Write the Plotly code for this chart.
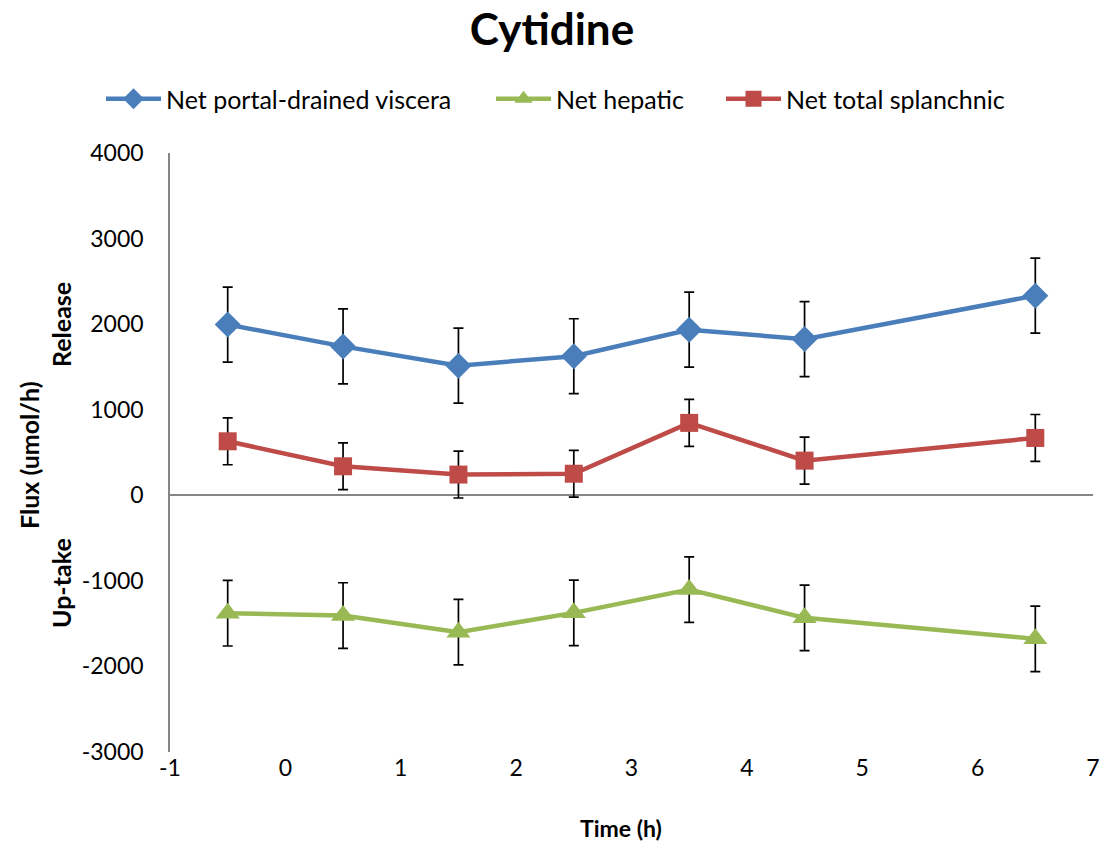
import plotly.graph_objects as go

time_h = [-0.5, 0.5, 1.5, 2.5, 3.5, 4.5, 6.5]

pdv = [1995, 1740, 1515, 1625, 1935, 1825, 2333]
pdv_err = [438, 438, 438, 438, 438, 438, 438]

hepatic = [-1378, -1405, -1600, -1374, -1102, -1432, -1678]
hepatic_err = [383, 383, 383, 383, 383, 383, 383]

splanchnic = [631, 339, 242, 252, 846, 405, 670]
splanchnic_err = [274, 274, 274, 274, 274, 274, 274]

x_ticks = [-1, 0, 1, 2, 3, 4, 5, 6, 7]
x_labels = ["-1", "0", "1", "2", "3", "4", "5", "6", "7"]
y_ticks = [-3000, -2000, -1000, 0, 1000, 2000, 3000, 4000]
y_labels = ["-3000", "-2000", "-1000", "0", "1000", "2000", "3000", "4000"]

FONT = "Lato"
BLUE = "#4A7EBB"
GREEN = "#98B954"
RED = "#BE4B48"
FS = 23

fig = go.Figure()

def add(name, y, err, color, symbol, size, legend):
    fig.add_trace(go.Scatter(
        x=time_h, y=y, name=name, mode="lines+markers", legend=legend,
        line=dict(color=color, width=4.5),
        marker=dict(symbol=symbol, size=size, color=color),
        error_y=dict(type="data", array=err, visible=True,
                     color="black", thickness=1.7, width=5),
    ))

add("Net portal-drained viscera", pdv, pdv_err, BLUE, "diamond", 20, "legend")
add("Net hepatic", hepatic, hepatic_err, GREEN, "triangle-up", 21, "legend2")
add("Net total splanchnic", splanchnic, splanchnic_err, RED, "square", 18, "legend3")

def leg(xpx):
    return dict(orientation="h", xref="container", x=xpx / 1101, xanchor="left",
                yref="container", y=1 - 99 / 844, yanchor="middle",
                font=dict(family=FONT, size=25, color="black"),
                itemwidth=55, bgcolor="rgba(0,0,0,0)")

fig.update_layout(
    width=1101, height=844,
    margin=dict(l=170, r=8, t=153, b=92, autoexpand=False),
    paper_bgcolor="white", plot_bgcolor="white",
    font=dict(family=FONT, size=FS, color="black"),
    title=dict(text="<b>Cytidine</b>", x=552 / 1101, xref="container", xanchor="center",
               y=1 - 30 / 844, yanchor="middle", yref="container",
               font=dict(family=FONT, size=44, color="black")),
    showlegend=True,
    legend=leg(101),
    legend2=leg(491),
    legend3=leg(721),
    xaxis=dict(range=[-1, 7], tickvals=x_ticks, ticktext=x_labels, showgrid=False,
               zeroline=False, showline=False, ticks="", automargin=False,
               tickfont=dict(size=FS)),
    yaxis=dict(range=[-3000, 4000], tickvals=y_ticks, ticktext=y_labels, showgrid=False,
               zeroline=True, zerolinecolor="#868686", zerolinewidth=1.5,
               showline=True, linecolor="#868686", linewidth=1.5, automargin=False,
               ticks="outside", ticklen=20, tickcolor="rgba(0,0,0,0)",
               tickfont=dict(size=FS)),
    annotations=[
        dict(text="<b>Time (h)</b>", xref="paper", yref="paper",
             x=(621 - 170) / 923, y=-(828 - 752) / 599, xanchor="center",
             yanchor="middle", showarrow=False, font=dict(size=23)),
        dict(text="<b>Flux (umol/h)</b>", xref="paper", yref="paper",
             x=(29 - 170) / 923, y=(752 - 455) / 599, xanchor="center",
             yanchor="middle", showarrow=False, textangle=-90, font=dict(size=25)),
        dict(text="<b>Release</b>", xref="paper", yref="paper",
             x=(61 - 170) / 923, y=(752 - 325) / 599, xanchor="center",
             yanchor="middle", showarrow=False, textangle=-90, font=dict(size=25)),
        dict(text="<b>Up-take</b>", xref="paper", yref="paper",
             x=(61 - 170) / 923, y=(752 - 583) / 599, xanchor="center",
             yanchor="middle", showarrow=False, textangle=-90, font=dict(size=25)),
    ],
)

fig.write_html("out.html")
